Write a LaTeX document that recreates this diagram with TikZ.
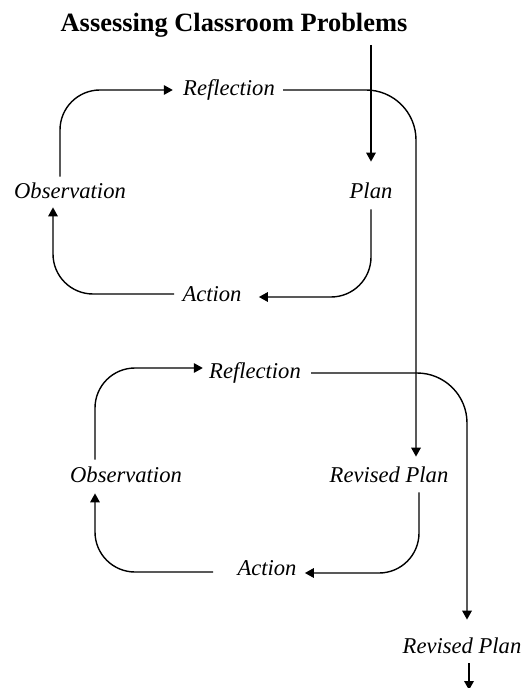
\documentclass[tikz,border=0pt]{standalone}
\usepackage{fontspec}
\setmainfont{Liberation Serif}
\usetikzlibrary{arrows.meta}
\begin{document}
\begin{tikzpicture}[x=0.5pt,y=-0.5pt,
  lbl/.style={font=\fontsize{11.3pt}{13pt}\selectfont\itshape, inner xsep=5pt, inner ysep=3pt, text height=8pt, text depth=2pt},
  arr/.style={-{Triangle[length=4.5pt,width=4.8pt]}, line width=0.7pt, rounded corners=20pt}]
\useasboundingbox (0,0) rectangle (527,688);
\node[font=\fontsize{13.2pt}{15pt}\selectfont\bfseries, inner sep=0, anchor=base] (title) at (234,32) {Assessing Classroom Problems};
% loop 1
\node[lbl] (ref1) at (229,90) {Reflection};
\node[lbl] (obs1) at (70,193) {Observation};
\node[lbl] (plan1) at (371,193) {Plan};
\node[lbl] (act1) at (212,296) {Action};
% loop 2
\node[lbl] (ref2) at (255,373) {Reflection};
\node[lbl] (obs2) at (126,476) {Observation};
\node[lbl] (rplan2) at (389,476) {Revised Plan};
\node[lbl] (act2) at (267,569) {Action};
\node[lbl] (rplan3) at (462,647) {Revised Plan};
\coordinate (start) at (371,45);
\coordinate (finish) at (469,690);
% connectors loop 1
\draw[arr] (start) -- ([yshift=7.5pt]plan1.north);
\draw[arr] ([xshift=-5pt]obs1.north) |- (ref1.west);
\draw[arr,rounded corners=25pt] ([xshift=-1pt]ref1.east) -| ([xshift=13.5pt,yshift=1.5pt]rplan2.north);
\draw[arr] (plan1.south) |- ([xshift=3.5pt,yshift=-0.5pt]act1.east);
\draw[arr] ([xshift=1pt,yshift=1pt]act1.west) -| ([xshift=-8.5pt,yshift=1pt]obs1.south);
% connectors loop 2
\draw[arr] ([xshift=-15.5pt]obs2.north) |- ([xshift=2pt,yshift=2.5pt]ref2.west);
\draw[arr,rounded corners=25pt] (ref2.east) -| ([xshift=2.5pt,yshift=5.5pt]rplan3.north);
\draw[arr] ([xshift=15pt]rplan2.south) |- ([xshift=-1pt,yshift=-2pt]act2.east);
\draw[arr] ([xshift=-7pt,yshift=-1.5pt]act2.west) -| ([xshift=-15.5pt,yshift=-0.5pt]obs2.south);
\draw[arr] ([xshift=3.5pt]rplan3.south) -- (finish);
\end{tikzpicture}
\end{document}
